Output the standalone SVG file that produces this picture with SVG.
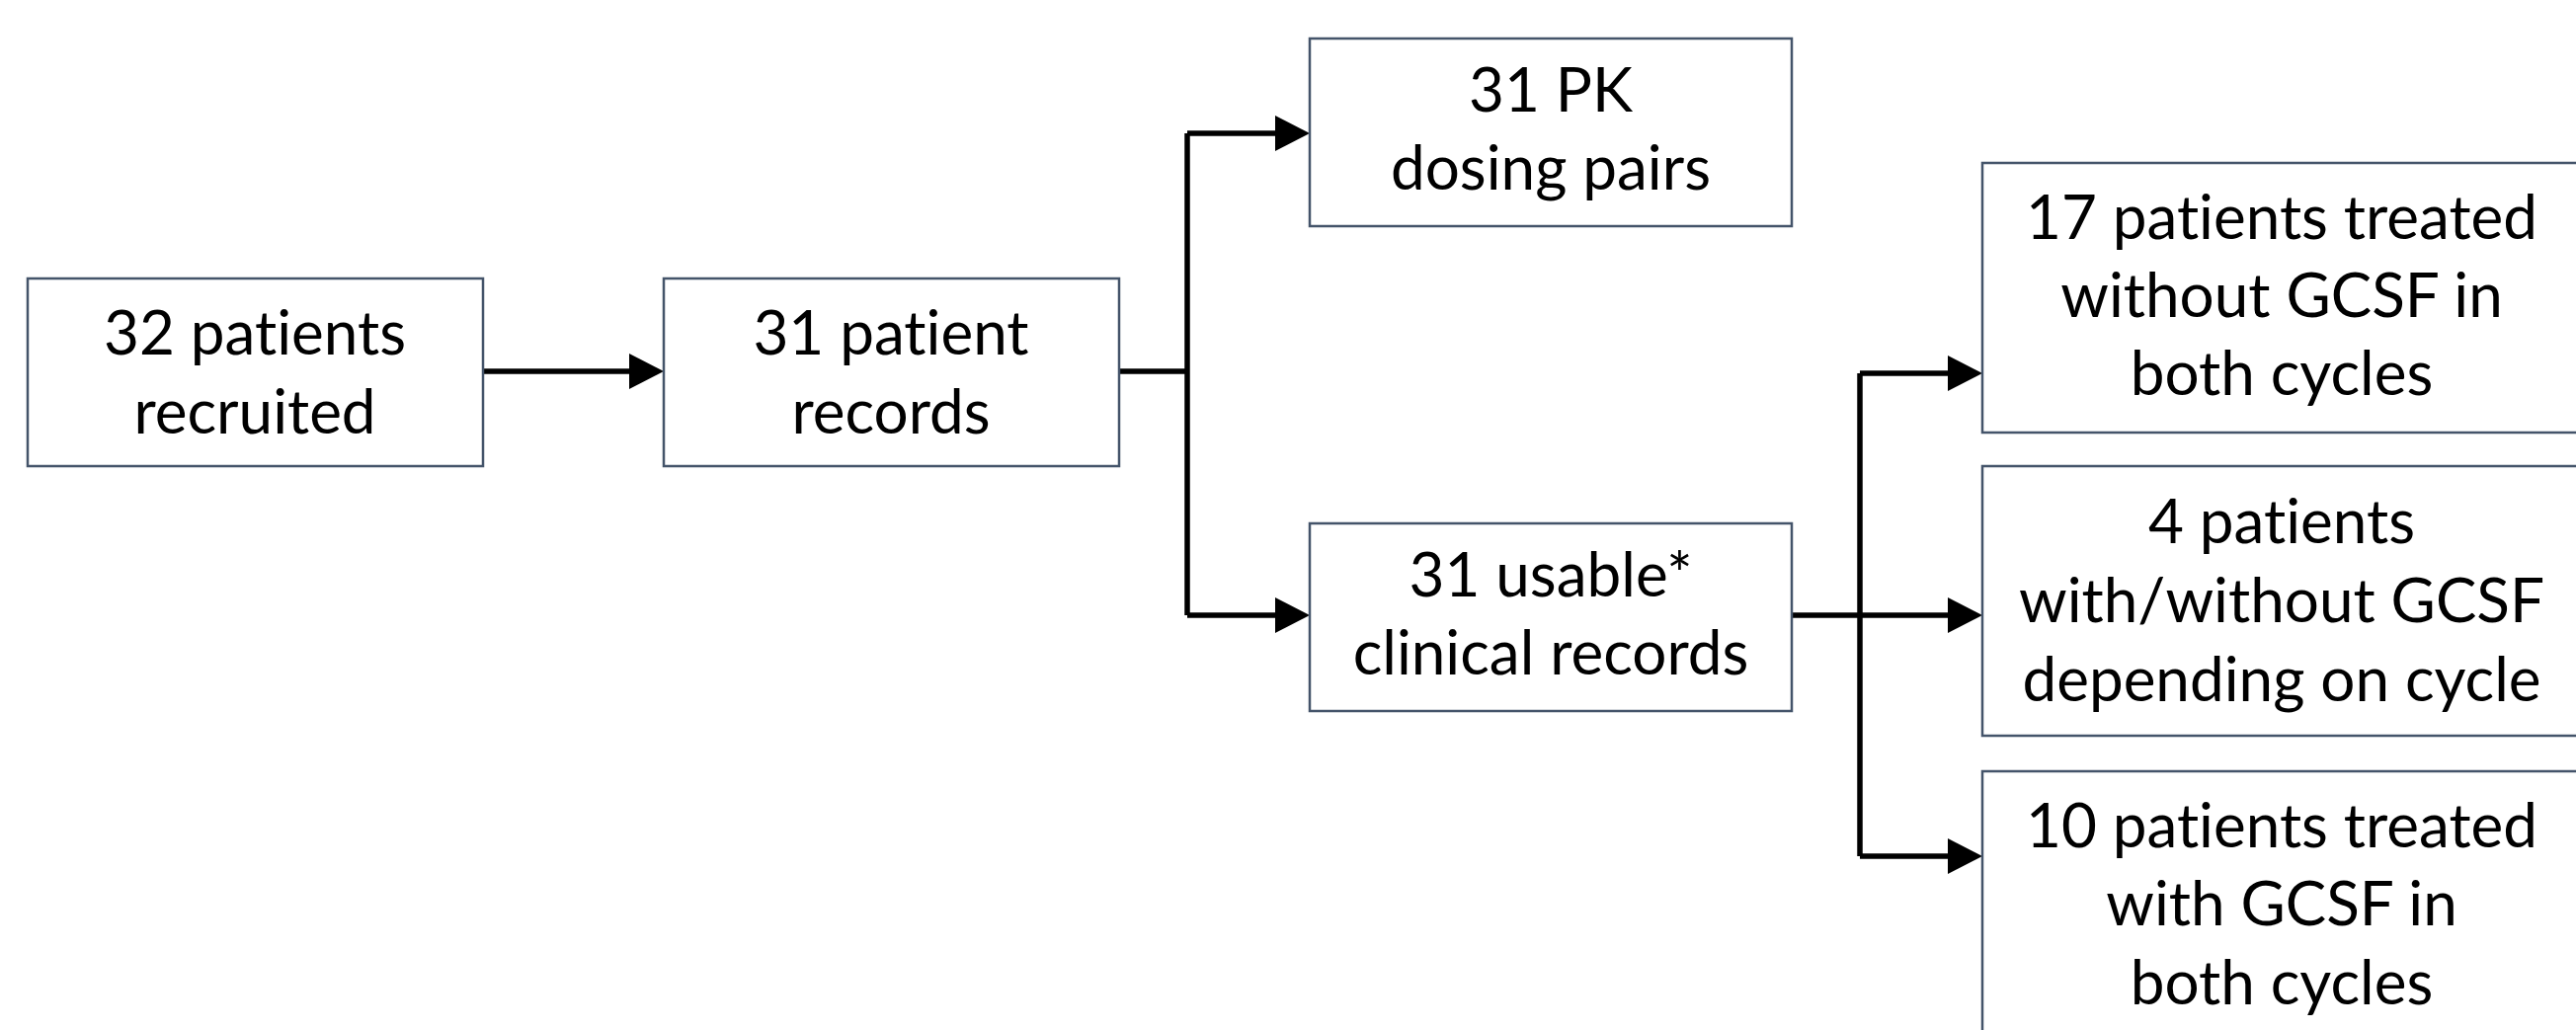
<svg xmlns="http://www.w3.org/2000/svg" width="2608" height="1043" viewBox="0 0 2608 1043">
<style>
.box{fill:#ffffff;stroke:#44546A;stroke-width:2.5}
.t{font-family:Lato,"Liberation Sans",sans-serif;font-size:62px;fill:#000;text-anchor:middle;font-variant-ligatures:none;font-feature-settings:"liga" 0,"dlig" 0}
.c{fill:none;stroke:#000;stroke-width:5.5}
</style>
<defs>
<marker id="ah" markerUnits="userSpaceOnUse" viewBox="0 0 35 36" refX="15" refY="18" markerWidth="35" markerHeight="36" orient="auto">
<path d="M0,0 L35,18 L0,36 Z" fill="#000"/>
</marker>
</defs>
<rect width="2608" height="1043" fill="#ffffff"/>
<g id="connectors">
<line class="c" x1="489" y1="376" x2="652" y2="376" marker-end="url(#ah)"/>
<path class="c" d="M1133,376 H1202"/>
<path class="c" d="M1202,135 V623"/>
<line class="c" x1="1202" y1="135" x2="1306" y2="135" marker-end="url(#ah)"/>
<line class="c" x1="1202" y1="623" x2="1306" y2="623" marker-end="url(#ah)"/>
<path class="c" d="M1883,378 V867"/>
<line class="c" x1="1883" y1="378" x2="1987" y2="378" marker-end="url(#ah)"/>
<line class="c" x1="1814" y1="623" x2="1987" y2="623" marker-end="url(#ah)"/>
<line class="c" x1="1883" y1="867" x2="1987" y2="867" marker-end="url(#ah)"/>
</g>
<g id="n1">
<rect class="box" x="28" y="282" width="461" height="190"/>
<text class="t" x="258" y="359">32 patients</text>
<text class="t" x="258" y="439">recruited</text>
</g>
<g id="n2">
<rect class="box" x="672" y="282" width="461" height="190"/>
<text class="t" x="902" y="359">31 patient</text>
<text class="t" x="902" y="439">records</text>
</g>
<g id="n3">
<rect class="box" x="1326" y="39" width="488" height="190"/>
<text class="t" x="1570" y="113">31 PK</text>
<text class="t" x="1570" y="192">dosing pairs</text>
</g>
<g id="n4">
<rect class="box" x="1326" y="530" width="488" height="190"/>
<text class="t" x="1570" y="604">31 usable*</text>
<text class="t" x="1570" y="683">clinical records</text>
</g>
<g id="n5">
<rect class="box" x="2007" y="165" width="606" height="273"/>
<text class="t" x="2310" y="242">17 patients treated</text>
<text class="t" x="2310" y="321">without GCSF in</text>
<text class="t" x="2310" y="400">both cycles</text>
</g>
<g id="n6">
<rect class="box" x="2007" y="472" width="606" height="273"/>
<text class="t" x="2310" y="550">4 patients</text>
<text class="t" x="2310" y="630">with/without GCSF</text>
<text class="t" x="2310" y="710">depending on cycle</text>
</g>
<g id="n7">
<rect class="box" x="2007" y="781" width="606" height="273"/>
<text class="t" x="2310" y="858">10 patients treated</text>
<text class="t" x="2310" y="937">with GCSF in</text>
<text class="t" x="2310" y="1017">both cycles</text>
</g>
</svg>
